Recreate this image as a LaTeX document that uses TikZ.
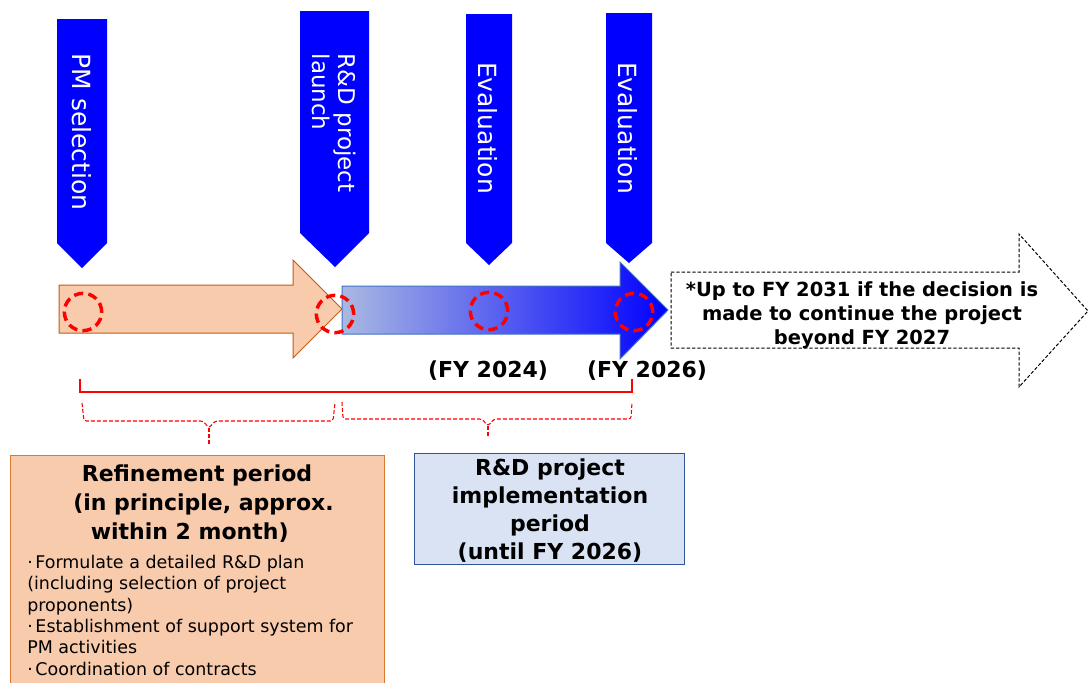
\documentclass[tikz,border=0pt]{standalone}
\usepackage{fontspec}
\setmainfont{DejaVu Sans}
\definecolor{peach}{HTML}{F8CBAD}
\definecolor{rust}{HTML}{C55A11}
\definecolor{boxorange}{HTML}{D9782F}
\definecolor{paleblue}{HTML}{DAE3F3}
\definecolor{navyline}{HTML}{2F5597}
\definecolor{armline}{HTML}{4472C4}
\definecolor{steel}{HTML}{A9B9E1}
\definecolor{midblue}{HTML}{5561EE}
\definecolor{tabblue}{HTML}{0000FF}
\definecolor{ringred}{HTML}{FF0000}

\begin{document}
\begin{tikzpicture}
    [x=0.75pt,y=-0.75pt,
     tab/.style={fill=tabblue,draw=none},
     tabtext/.style={text=white,rotate=-90,inner sep=0pt,align=left,
                     font=\fontsize{18.75}{19.5}\selectfont},
     ring/.style={circle,draw=ringred,line width=2.6pt,
                  dash pattern=on 7pt off 3.9pt,minimum size=28pt,inner sep=0pt},
     fy/.style={font=\bfseries\fontsize{16.5}{18}\selectfont,inner sep=0pt},
     headtext/.style={font=\bfseries\fontsize{16.5}{21.75}\selectfont,align=center,inner sep=0pt},
     redbrace/.style={ringred,line width=0.8pt,dash pattern=on 3pt off 1.5pt,rounded corners=2pt}]

    \useasboundingbox (0,0) rectangle (1089,682);

% milestone tabs
\fill[tab] (57,19) -- (107,19) -- (107,243) -- (82,268) -- (57,243) -- cycle;
\fill[tab] (300,11) -- (369,11) -- (369,233) -- (335,267) -- (300,233) -- cycle;
\fill[tab] (466,14) -- (512,14) -- (512,243) -- (489,265) -- (466,243) -- cycle;
\fill[tab] (606,13) -- (652,13) -- (652,243) -- (629,263) -- (606,243) -- cycle;

\node[tabtext] (pmsel) at (82,132) {PM selection};
\node[tabtext,font=\fontsize{17.25}{19.5}\selectfont] (launch) at (334,123) {R\&D project\\launch};
\node[tabtext] (eval1) at (488,128) {Evaluation};
\node[tabtext] (eval2) at (628,128) {Evaluation};

% period arrows
\draw[rust,fill=peach,line width=0.75pt] (59,285) -- (293,285) -- (293,260) -- (342,309)
    -- (293,358) -- (293,333) -- (59,333) -- cycle;
\draw[armline,line width=0.75pt,left color=steel,middle color=midblue,right color=tabblue]
    (342,286) -- (620,286) -- (620,262) -- (668,310) -- (620,359) -- (620,334) -- (342,334) -- cycle;
\draw[black,line width=0.75pt,dash pattern=on 2.5pt off 1.5pt] (671,272) -- (1019,272)
    -- (1019,234) -- (1088,311) -- (1019,387) -- (1019,348) -- (671,348) -- cycle;

\node[font=\bfseries\fontsize{14.6}{18}\selectfont,align=center,inner sep=0pt] (extend) at (862,315)
    {*Up to FY 2031 if the decision is\\made to continue the project\\beyond FY 2027};

% milestone rings
\node[ring] (ring1) at (83,312) {};
\node[ring] (ring2) at (335,314) {};
\node[ring] (ring3) at (489,311) {};
\node[ring] (ring4) at (634,312) {};

\node[fy,anchor=base] (fy24) at (488,377) {(FY 2024)};
\node[fy,anchor=base] (fy26) at (647,377) {(FY 2026)};

% spans
\coordinate (spanL) at (80,379);
\coordinate (spanR) at (632,379);
\draw[ringred,line width=0.9pt] (spanL) -- ++(0,13) -| (spanR);

\coordinate (refL) at (82,403);
\coordinate (refR) at (335,403);
\coordinate (refTip) at (209,428);
\coordinate (implL) at (342,402);
\coordinate (implR) at (632,402);
\coordinate (implTip) at (488,426);
\draw[redbrace] (refL) -- (84,421) -- (203,421) -- (refTip) -- (215,421) -- (333,421) -- (refR);
\draw[redbrace] (refTip) -- ++(0,17);
\draw[redbrace] (implL) -- (343,419) -- (482,419) -- (implTip) -- (494,419) -- (631,419) -- (implR);
\draw[redbrace] (implTip) -- ++(0,11);

% period boxes
\node[draw=boxorange,fill=peach,line width=0.9pt,anchor=north west,inner sep=0pt,
      minimum width=280.5pt,minimum height=190pt] (refbox) at (10,455) {};
\node[draw=navyline,fill=paleblue,line width=0.9pt,anchor=north west,inner sep=0pt,
      minimum width=202.5pt,minimum height=83.25pt] (implbox) at (414,453) {};

\node[headtext] (refhead) at (197,504)
    {Refinement period\\\kern9.75pt(in principle, approx.\\within 2 month)\kern11pt};
\node[font=\fontsize{13.1}{16}\selectfont,align=left,inner sep=0pt,anchor=north west] (reflist) at (27,555)
    {·\kern2pt Formulate a detailed R\&D plan\\(including selection of project\\proponents)\\
     ·\kern2pt Establishment of support system for\\PM activities\\·\kern2pt Coordination of contracts};

\node[headtext,font=\bfseries\fontsize{16.5}{21}\selectfont] (implhead) at (550,511)
    {R\&D project\\implementation\\period\\(until FY 2026)};

  \end{tikzpicture}
\end{document}
